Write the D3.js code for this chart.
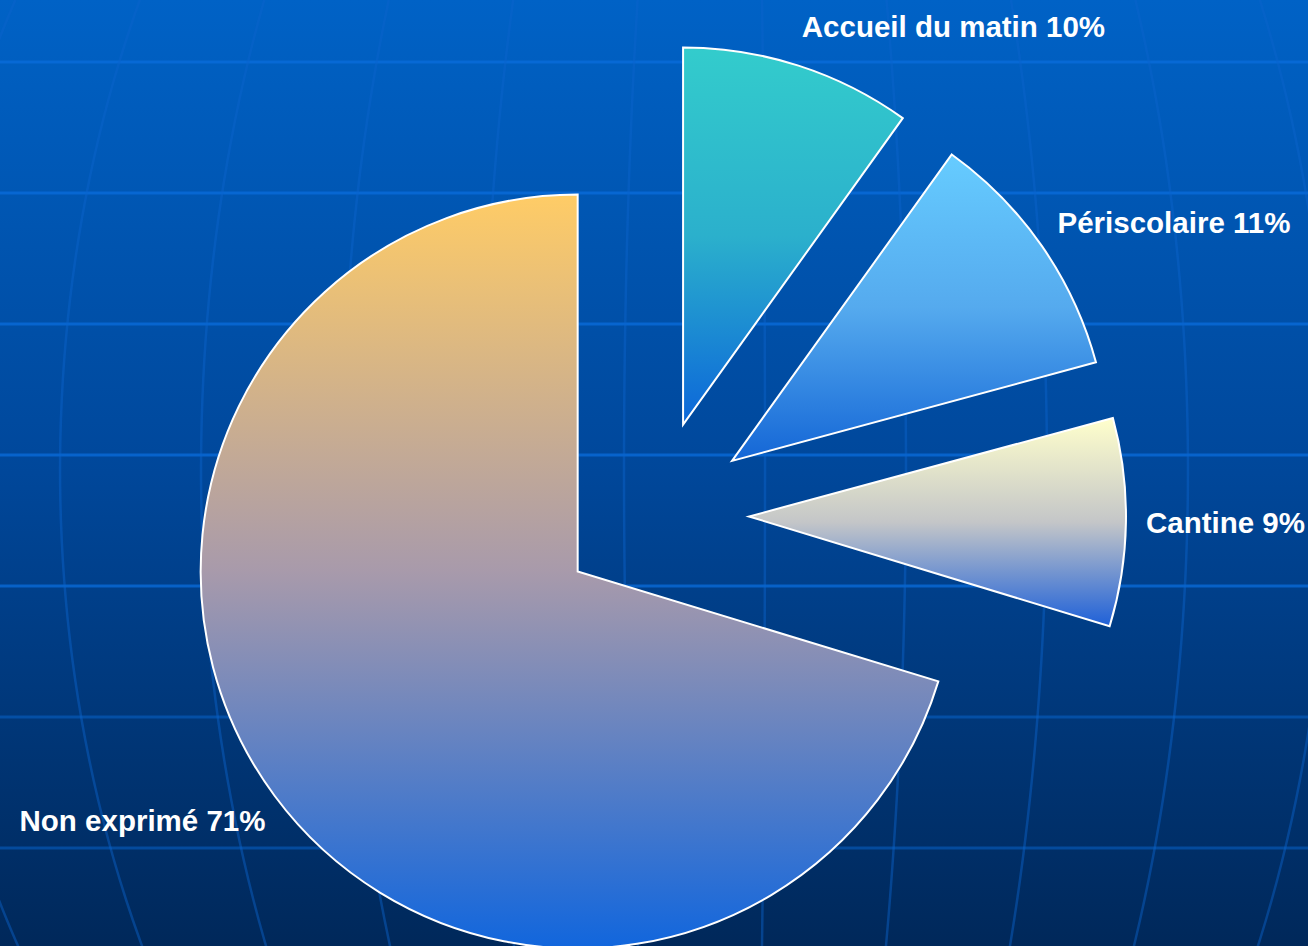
<!DOCTYPE html>
<html>
<head>
<meta charset="utf-8">
<script src="https://d3js.org/d3.v7.min.js"></script>
<style>
  html, body { margin: 0; padding: 0; background: #003c80; }
  svg { display: block; }
</style>
</head>
<body>
<div id="chart"></div>
<script>
// Data
const categories = ["Accueil du matin", "Périscolaire", "Cantine", "Non exprimé"];
const values = [10, 11, 9, 71];
const topColors = ["#33cccc", "#66ccff", "#ffffcc", "#ffcc66"];
const midColors = ["#2bb0cc", "#55aaee", "#c4c6c8", "#a89aab"];
const bottomColors = ["#0c66d9", "#1466d6", "#1e60d8", "#1166dd"];

const width = 1308;
const height = 946;

// pie geometry
const cx = 654, cy = 515;
const radius = 377;
const explode = 95;

const svg = d3.select('#chart')
    .append('svg')
    .attr('width', width)
    .attr('height', height);

const defs = svg.append('defs');

// Background gradient
const bg = defs.append('linearGradient')
    .attr('id', 'bg')
    .attr('x1', 0).attr('y1', 0).attr('x2', 0).attr('y2', 1);
bg.append('stop').attr('offset', 0).attr('stop-color', '#0062c6');
bg.append('stop').attr('offset', 0.5).attr('stop-color', '#00479a');
bg.append('stop').attr('offset', 1).attr('stop-color', '#00285a');

svg.append('rect')
    .attr('width', width)
    .attr('height', height)
    .attr('fill', 'url(#bg)');

// Globe-like grid behind the chart
const grid = svg.append('g').attr('class', 'grid');

const latY = d3.range(7).map(i => 62 + 131 * i);
grid.selectAll('line.lat')
    .data(latY)
    .join('line')
    .attr('class', 'lat')
    .attr('x1', 0).attr('x2', width)
    .attr('y1', d => d).attr('y2', d => d)
    .attr('stroke', '#0a6ddc')
    .attr('stroke-width', 3)
    .attr('opacity', (d, i) => i < 5 ? 0.75 : 0.45);

const globeX = 740, globeY = 470, globeRy = 1000;
const lonX = d3.range(11).map(i => -81 + 141 * i);
const meridian = d3.line().curve(d3.curveBasis);
grid.selectAll('path.lon')
    .data(lonX)
    .join('path')
    .attr('class', 'lon')
    .attr('d', x0 => meridian(d3.range(0, height + 20, 20).map(y => {
        const t = (y - globeY) / globeRy;
        return [globeX + (x0 - globeX) * Math.sqrt(Math.max(0, 1 - t * t)), y];
    })))
    .attr('fill', 'none')
    .attr('stroke', '#0a64cc')
    .attr('stroke-width', 2.5)
    .attr('opacity', 0.45);

// Pie
const pie = d3.pie().sort(null).value(d => d);
const arcs = pie(values);
const arc = d3.arc().innerRadius(0).outerRadius(radius);

arcs.forEach((d, i) => {
    const g = defs.append('linearGradient')
        .attr('id', 'slice' + i)
        .attr('x1', 0).attr('y1', 0).attr('x2', 0).attr('y2', 1);
    g.append('stop').attr('offset', 0).attr('stop-color', topColors[i]);
    g.append('stop').attr('offset', 0.5).attr('stop-color', midColors[i]);
    g.append('stop').attr('offset', 1).attr('stop-color', bottomColors[i]);
});

function mid(d) { return (d.startAngle + d.endAngle) / 2; }

const slices = svg.append('g')
    .attr('transform', `translate(${cx},${cy})`);

slices.selectAll('path')
    .data(arcs)
    .join('path')
    .attr('transform', d => {
        const a = mid(d);
        return `translate(${explode * Math.sin(a)},${-explode * Math.cos(a)})`;
    })
    .attr('d', arc)
    .attr('fill', (d, i) => `url(#slice${i})`)
    .attr('stroke', '#ffffff')
    .attr('stroke-width', 2)
    .attr('stroke-linejoin', 'miter');

// Labels outside each exploded slice
slices.selectAll('text')
    .data(arcs)
    .join('text')
    .attr('x', d => {
        const a = mid(d);
        const px = (explode + radius + 24) * Math.sin(a);
        return Math.sin(a) > 0 ? px - 4 : px + 10;
    })
    .attr('y', d => {
        const a = mid(d);
        return -(explode + radius + 24) * Math.cos(a) - 17 * Math.cos(a);
    })
    .attr('dy', '0.35em')
    .attr('text-anchor', d => Math.sin(mid(d)) > 0 ? 'start' : 'end')
    .attr('font-family', '"Liberation Sans", Arial, sans-serif')
    .attr('font-weight', 'bold')
    .attr('font-size', '29.5px')
    .attr('fill', '#ffffff')
    .text((d, i) => `${categories[i]} ${values[i]}%`);
</script>
</body>
</html>
